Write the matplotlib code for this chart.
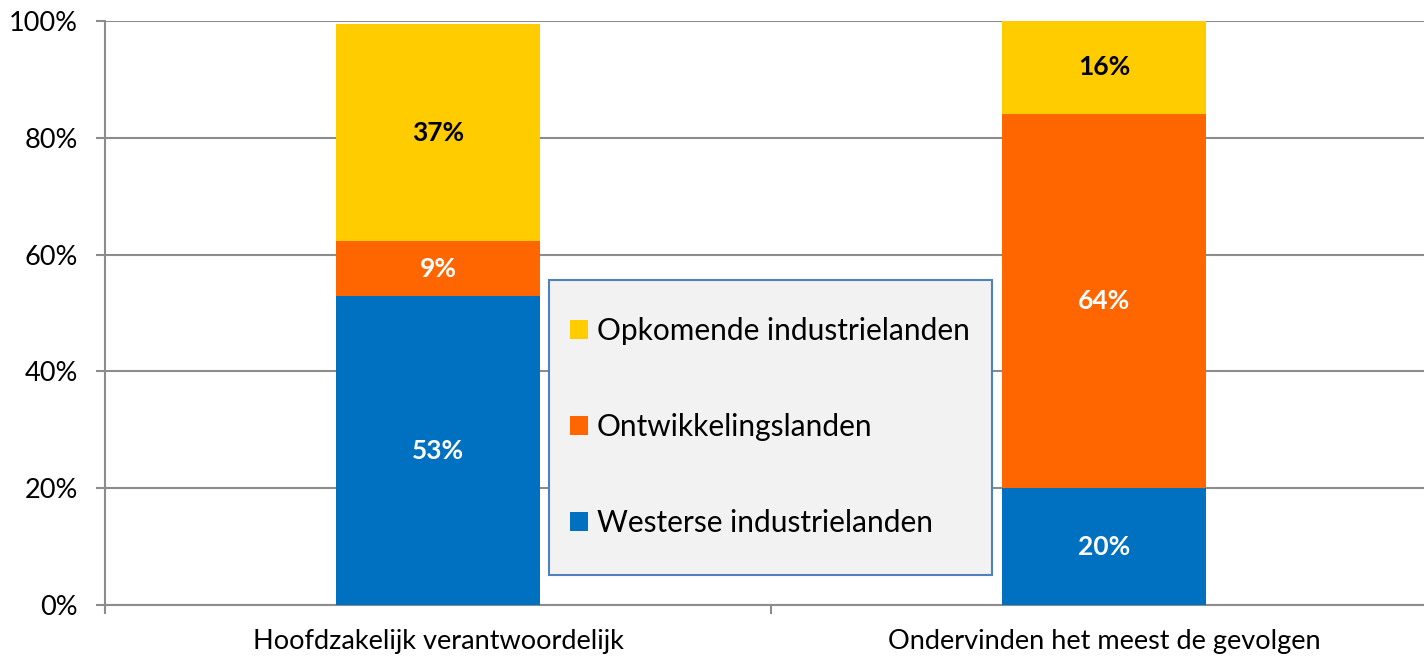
import numpy as np
import matplotlib.pyplot as plt
from matplotlib.patches import Rectangle
from matplotlib.ticker import PercentFormatter

categories = ["Hoofdzakelijk verantwoordelijk", "Ondervinden het meest de gevolgen"]
series = ["Westerse industrielanden", "Ontwikkelingslanden", "Opkomende industrielanden"]
westerse = [52.9, 20.0]
ontwikkeling = [9.4, 64.1]
opkomend = [37.2, 15.9]
labels = [["53%", "20%"], ["9%", "64%"], ["37%", "16%"]]

colors = ["#0070c0", "#ff6600", "#ffcc00"]
label_colors = ["white", "white", "black"]

plt.rcParams['font.family'] = ['Lato', 'DejaVu Sans']

fig = plt.figure(figsize=(14.24, 6.59), dpi=100)
# plot area runs a little past the right edge of the picture
ax = fig.add_axes([105 / 1424, 1 - 605 / 659, (1437 - 105) / 1424, (605 - 21) / 659])

x = np.arange(len(categories))
bottom = np.zeros(len(categories))
handles = []
for i, vals in enumerate([westerse, ontwikkeling, opkomend]):
    vals = np.array(vals)
    b = ax.bar(x, vals, 0.306, bottom=bottom, color=colors[i], label=series[i], zorder=3)
    handles.append(b)
    for j in range(len(x)):
        ax.text(x[j], bottom[j] + vals[j] / 2, labels[i][j], ha="center", va="center",
                color=label_colors[i], fontsize=19, fontweight="bold", zorder=4)
    bottom += vals

ax.set_xlim(-0.5, 1.5)
ax.set_ylim(0, 100)
ax.set_yticks([0, 20, 40, 60, 80, 100])
ax.yaxis.set_major_formatter(PercentFormatter(decimals=0))
ax.yaxis.grid(True, color="#8c8c8c", linewidth=1.5, zorder=0)
ax.set_xticks(x)
ax.set_xticklabels(categories)
ax.set_xticks([-0.5, 0.5, 1.5], minor=True)
ax.tick_params(axis="x", which="major", length=0, pad=17, labelsize=19.5)
ax.tick_params(axis="x", which="minor", length=6.5, width=1.5, color="#8c8c8c")
ax.tick_params(axis="y", length=6.5, width=1.5, color="#8c8c8c", labelsize=19.5, pad=13)
for s in ["top", "right"]:
    ax.spines[s].set_visible(False)
for s in ["left", "bottom"]:
    ax.spines[s].set_color("#8c8c8c")
    ax.spines[s].set_linewidth(1.5)

# legend box
box = Rectangle((549 / 1424, 1 - 575 / 659), 443 / 1424, 295 / 659,
                transform=fig.transFigure, facecolor="#f2f2f2", edgecolor="#4f81bd",
                linewidth=1.5, zorder=5)
fig.patches.append(box)
leg = fig.legend(handles[::-1], series[::-1], loc="center left",
                 bbox_to_anchor=(570 / 1424, 1 - 427 / 659),
                 bbox_transform=fig.transFigure, frameon=False,
                 fontsize=21.5, labelspacing=2.29, handlelength=0.6, handleheight=0.6,
                 handletextpad=0.3, borderpad=0, borderaxespad=0)
leg.set_zorder(6)

fig.savefig("out.png", dpi=100)
